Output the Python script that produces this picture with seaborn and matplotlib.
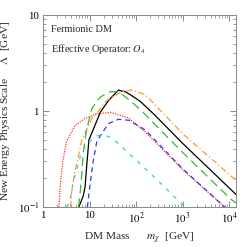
import numpy as np
import pandas as pd
import seaborn as sns
import matplotlib.pyplot as plt
from matplotlib.ticker import FixedLocator, FixedFormatter, LogLocator, NullFormatter

# ---------------------------------------------------------
# Curves (DM mass in GeV, Lambda in GeV)
# ---------------------------------------------------------
black_m = [5.9, 7.3, 8.0, 8.7, 9.7, 12.3, 17.2, 26, 42, 60, 98, 125, 245, 1000, 10000, 14000]
black_lam = [0.1, 0.13, 0.16, 0.27, 0.5, 0.66, 0.98, 1.3, 1.65, 1.58, 1.36, 1.25, 0.92, 0.46, 0.158, 0.135]

orange_m = [3.9, 4.1, 4.8, 5.7, 6.8, 7.5, 11.3, 14.3, 21.7, 28, 50, 83, 160, 1000, 12300, 14000]
orange_lam = [0.1, 0.14, 0.23, 0.33, 0.5, 0.55, 0.845, 0.945, 1.25, 1.36, 1.59, 1.66, 1.47, 0.58, 0.2, 0.19]

green_m = [5.8, 6.2, 6.8, 7.3, 8.0, 8.8, 11.3, 17, 28, 42, 64, 125, 207, 1000, 11000, 14000]
green_lam = [0.1, 0.13, 0.22, 0.36, 0.5, 0.66, 1.07, 1.4, 1.59, 1.59, 1.36, 1.03, 0.8, 0.37, 0.12, 0.11]

red_m = [2.2, 2.3, 2.4, 2.7, 3.2, 4.9, 8.1, 14, 28, 69, 125, 160, 1000, 8000, 9000]
red_lam = [0.1, 0.14, 0.19, 0.31, 0.48, 0.71, 0.84, 0.93, 0.97, 0.845, 0.66, 0.6, 0.245, 0.1, 0.095]

blue_m = [9.0, 10.3, 12.1, 14.3, 15.8, 20.4, 25.7, 42, 70, 125, 160, 1000, 7450, 9000]
blue_lam = [0.1, 0.175, 0.31, 0.48, 0.52, 0.63, 0.74, 0.82, 0.8, 0.68, 0.63, 0.25, 0.103, 0.095]

cyan_m = [3.2, 3.7, 4.1, 4.4, 5.9, 6.5, 9.0, 14, 20, 25.7, 42, 64, 98, 125, 1000, 1100]
cyan_lam = [0.1, 0.11, 0.143, 0.18, 0.29, 0.36, 0.46, 0.55, 0.56, 0.54, 0.46, 0.375, 0.31, 0.28, 0.106, 0.1]

x_ticks = [1, 10, 100, 1000, 10000]
x_labels = ["1", "10", "$10^2$", "$10^3$", "$10^4$"]
y_ticks = [0.1, 1, 10]
y_labels = ["$10^{-1}$", "1", "10"]

sns.set_style("ticks")
plt.rcParams["font.family"] = ["Liberation Serif", "DejaVu Serif"]
plt.rcParams["mathtext.fontset"] = "stix"

fig = plt.figure(figsize=(2.40, 2.47), dpi=100)
ax = fig.add_axes([43 / 240, 1 - 207 / 247, 193 / 240, 192 / 247])

curves = [
    (black_m, black_lam, "black", "-"),
    (orange_m, orange_lam, "#ff9933", (0, (5, 2, 1, 2))),
    (green_m, green_lam, "#33bb33", (0, (7, 4))),
    (red_m, red_lam, "#ff3333", (0, (1, 1))),
    (blue_m, blue_lam, "#3333ff", (0, (4, 3))),
    (cyan_m, cyan_lam, "#33cccc", (0, (3, 5))),
]
for m, lam, col, ls in curves:
    df = pd.DataFrame({"m": m, "lam": lam})
    sns.lineplot(data=df, x="m", y="lam", sort=False, color=col, lw=0.9,
                 linestyle=ls, ax=ax)

ax.set_xscale("log")
ax.set_yscale("log")
ax.set_xlim(1, 14000)
ax.set_ylim(0.1, 10)

ax.xaxis.set_major_locator(FixedLocator(x_ticks))
ax.xaxis.set_major_formatter(FixedFormatter(x_labels))
ax.yaxis.set_major_locator(FixedLocator(y_ticks))
ax.yaxis.set_major_formatter(FixedFormatter(y_labels))
ax.xaxis.set_minor_locator(LogLocator(base=10, subs=np.arange(2, 10), numticks=20))
ax.yaxis.set_minor_locator(LogLocator(base=10, subs=np.arange(2, 10), numticks=20))
ax.xaxis.set_minor_formatter(NullFormatter())
ax.yaxis.set_minor_formatter(NullFormatter())
ax.tick_params(which="both", direction="in", top=True, right=True, colors="#777777",
               labelcolor="black", labelsize=7.8, pad=3)
ax.tick_params(which="major", length=4, width=0.6)
ax.tick_params(which="minor", length=2, width=0.5)
for s in ax.spines.values():
    s.set_color("#888888")
    s.set_linewidth(0.7)

ax.set_xlabel(r"DM Mass      $m_\chi$  [GeV]", fontsize=8.2, labelpad=3)
ax.set_ylabel(r"New Energy Physics Scale     $\Lambda$  [GeV]", fontsize=8.2, labelpad=4)

ax.text(0.04, 0.95, "Fermionic DM", transform=ax.transAxes, fontsize=7.4, va="top")
ax.text(0.04, 0.86, "Effective Operator: $O_4$", transform=ax.transAxes, fontsize=7.4, va="top")

fig.savefig("out.png", dpi=100)
